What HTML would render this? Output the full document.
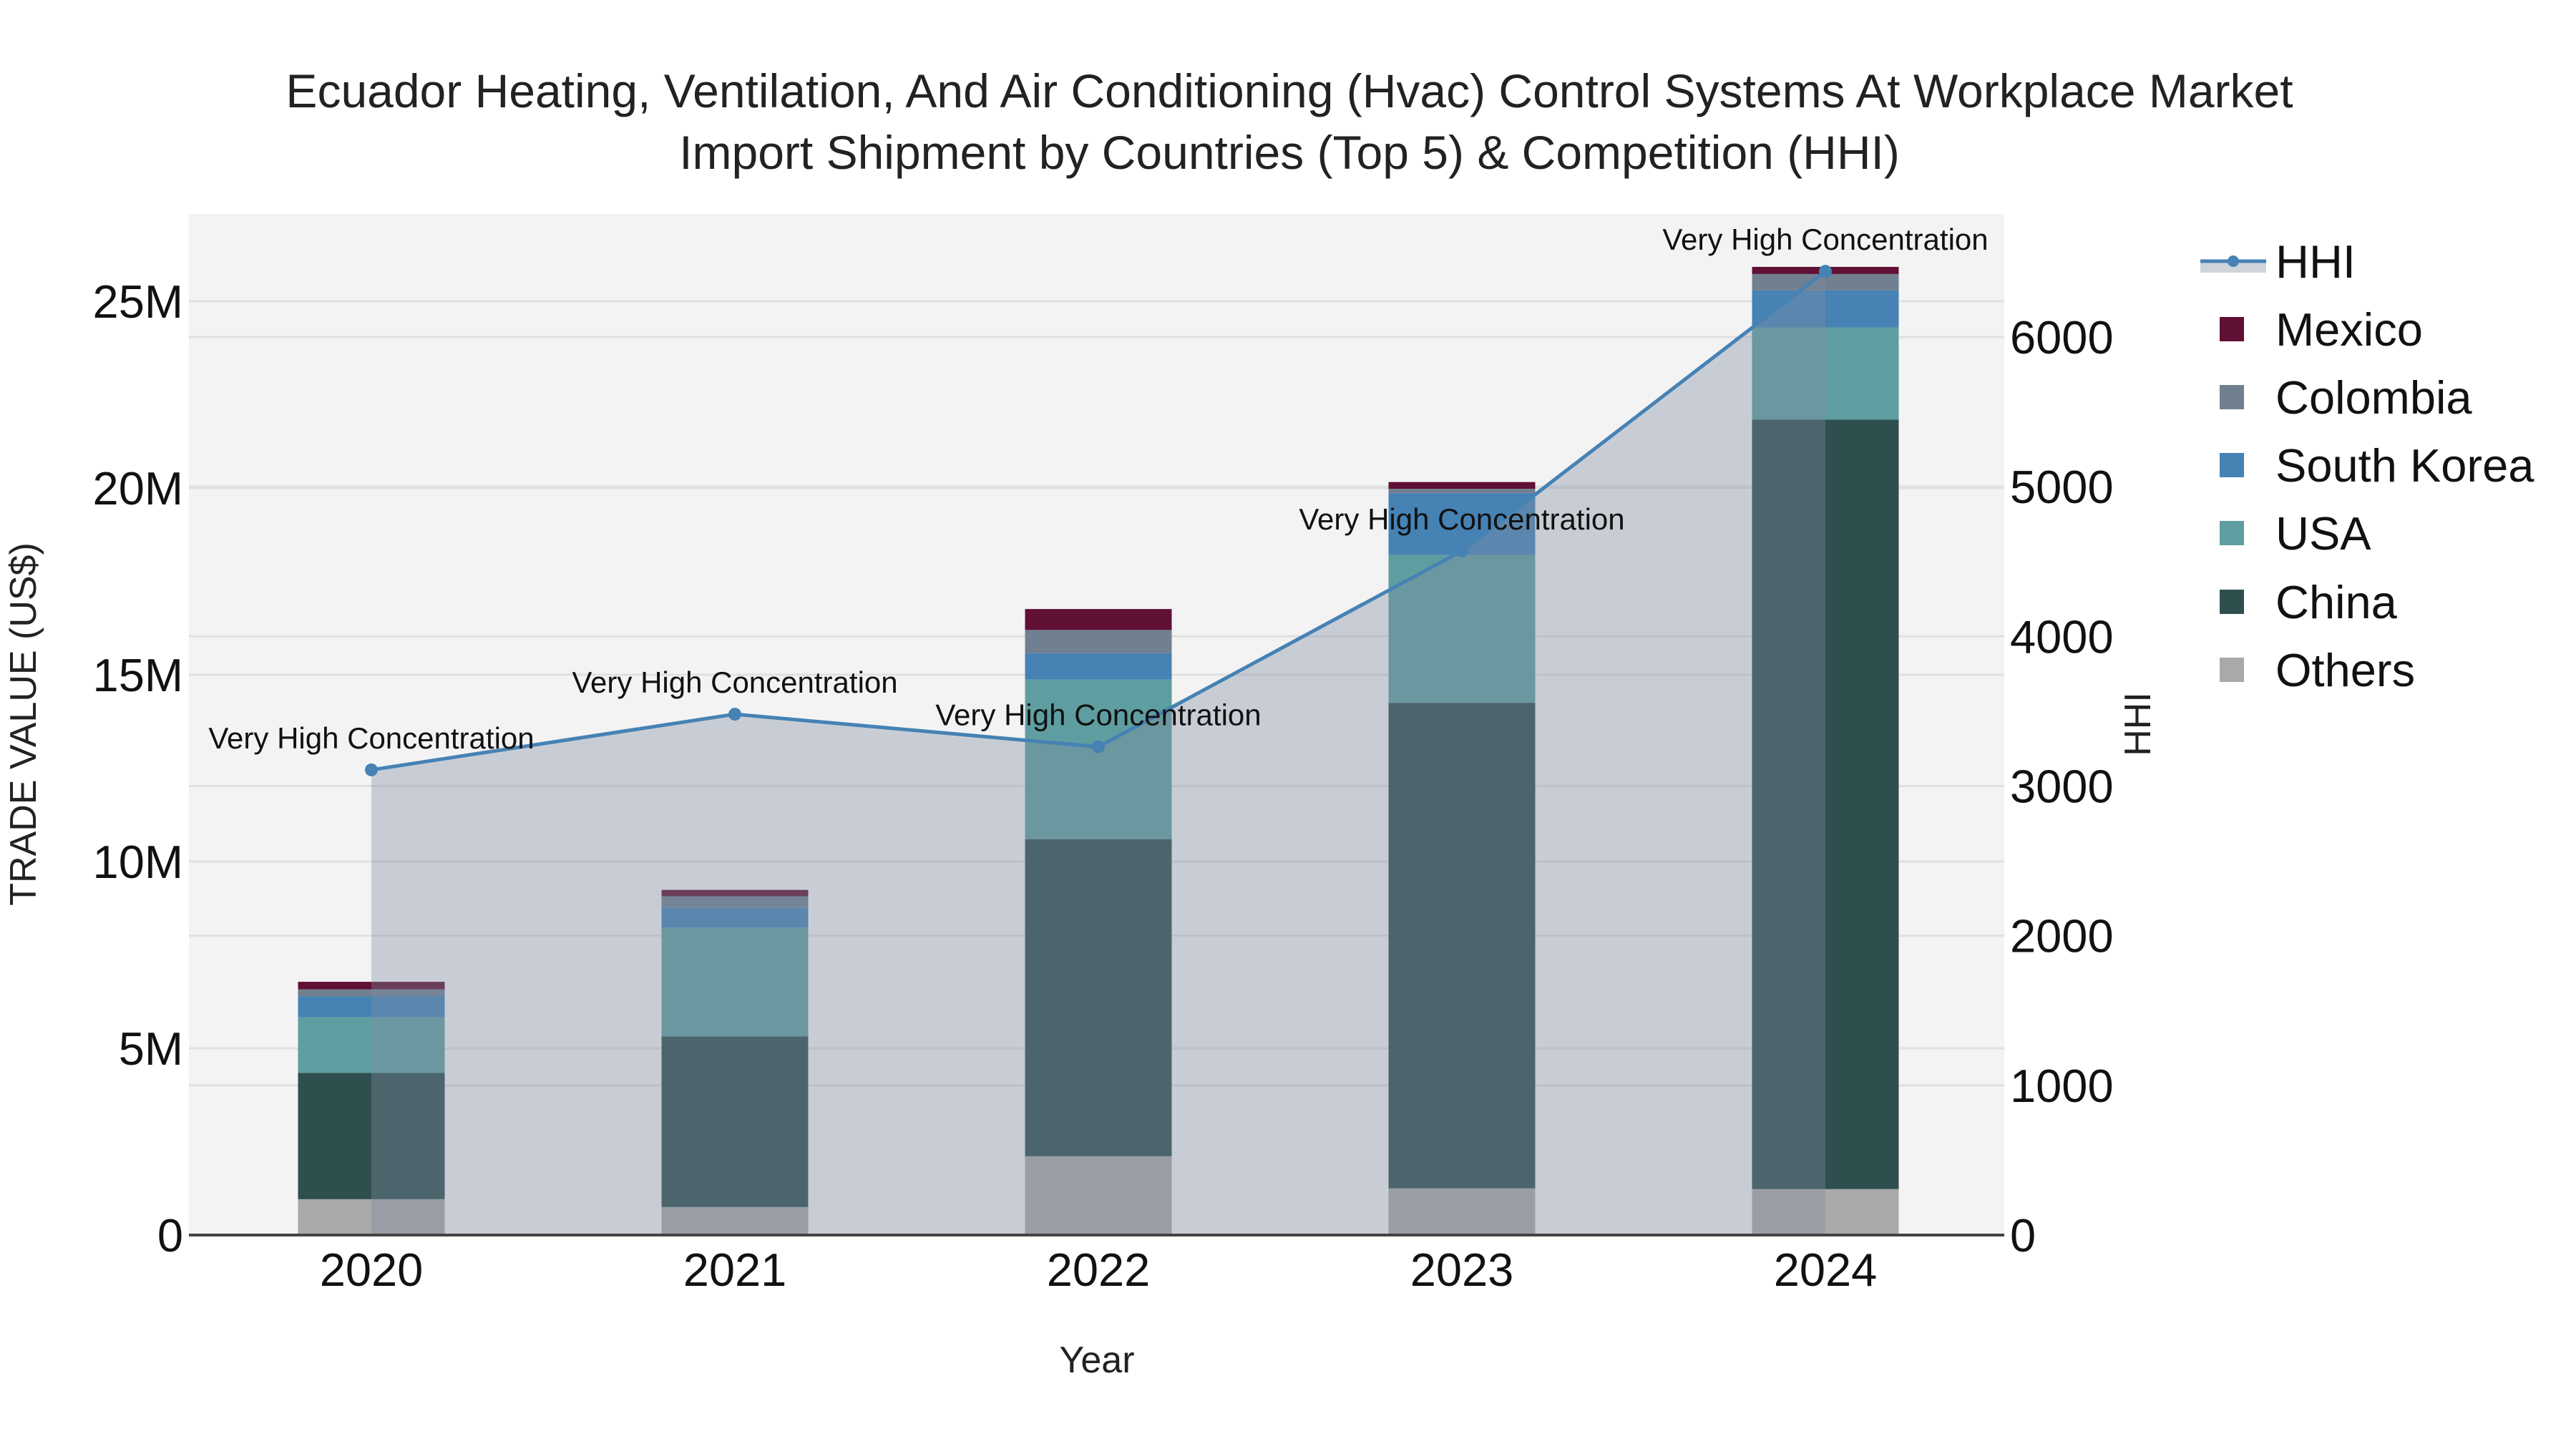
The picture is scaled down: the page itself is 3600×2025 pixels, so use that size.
<!DOCTYPE html>
<html><head><meta charset="utf-8"><style>
html,body{margin:0;padding:0;background:#fff;}
svg{display:block;font-family:"Liberation Sans",Arial,sans-serif;}
</style></head><body>
<svg id="chart" width="3600" height="2025" viewBox="0 0 3600 2025" xmlns="http://www.w3.org/2000/svg">
<rect x="0" y="0" width="3600" height="2025" fill="#ffffff"/>
<text x="1802" y="150" font-size="66" text-anchor="middle" fill="#222">Ecuador Heating, Ventilation, And Air Conditioning (Hvac) Control Systems At Workplace Market</text>
<text x="1802" y="236" font-size="66" text-anchor="middle" fill="#222">Import Shipment by Countries (Top 5) &amp; Competition (HHI)</text>
<rect x="264" y="299" width="2537" height="1427" fill="#f3f3f3"/>
<g id="grid"></g>
<g id="bars"></g>
<g id="hhi"></g>
<g id="axes"></g>
<g id="legend"></g>
</svg>
<script>
const years = ["2020","2021","2022","2023","2024"];
const others = [0.96, 0.75, 2.11, 1.25, 1.23];
const china = [3.38, 4.57, 8.49, 13.0, 20.6];
const usa = [1.49, 2.91, 4.27, 3.96, 2.47];
const southKorea = [0.56, 0.53, 0.71, 1.65, 0.99];
const colombia = [0.19, 0.31, 0.62, 0.12, 0.44];
const mexico = [0.2, 0.17, 0.56, 0.18, 0.19];
const hhi = [3108, 3480, 3262, 4571, 6439];
const leftTicks = [0, 5, 10, 15, 20, 25];
const leftTickLabels = ["0","5M","10M","15M","20M","25M"];
const rightTicks = [0, 1000, 2000, 3000, 4000, 5000, 6000];

const NS = "http://www.w3.org/2000/svg";
const PL = 264, PR = 2801, PT = 299, PB = 1726;
const x0 = 519, dx = 508, bw = 205;
function xS(i){ return x0 + i*dx; }
function yL(v){ return PB - v * (1305/25); }
function yR(v){ return PB - v * (1255/6000); }
function mk(tag, attrs, parent){ const e=document.createElementNS(NS,tag); for(const k in attrs) e.setAttribute(k,attrs[k]); parent.appendChild(e); return e; }

const grid=document.getElementById('grid');
rightTicks.forEach((t,i)=>{ if(t===0) return;
  const l=mk('line',{x1:PL,x2:PR,y1:yR(t),y2:yR(t),stroke:'#e0e0e0','stroke-width':3},grid);
  
  
});
leftTicks.forEach((t,i)=>{ if(t===0) return;
  const l=mk('line',{x1:PL,x2:PR,y1:yL(t),y2:yL(t),stroke:'#e0e0e0','stroke-width':3},grid);
  
  
});

const series=[
 {name:'Others',vals:others,color:'#a9a9a9'},
 {name:'China',vals:china,color:'#2f4f4f'},
 {name:'USA',vals:usa,color:'#5f9ea0'},
 {name:'South Korea',vals:southKorea,color:'#4682b4'},
 {name:'Colombia',vals:colombia,color:'#708090'},
 {name:'Mexico',vals:mexico,color:'#5f1034'}
];
const bars=document.getElementById('bars');
years.forEach((y,i)=>{
  let base=0;
  series.forEach(s=>{
    const v=s.vals[i];
    const r=mk('rect',{x:xS(i)-bw/2,y:yL(base+v),width:bw,height:yL(base)-yL(base+v),fill:s.color},bars);
    
    
    base+=v;
  });
});

const hg=document.getElementById('hhi');
let pts=hhi.map((v,i)=>xS(i)+','+yR(v));
const area=mk('polygon',{points:xS(0)+','+PB+' '+pts.join(' ')+' '+xS(hhi.length-1)+','+PB,fill:'rgba(128,141,162,0.37)'},hg);


const line=mk('polyline',{points:pts.join(' '),fill:'none',stroke:'#4682b4','stroke-width':5},hg);


hhi.forEach((v,i)=>{
  const c=mk('circle',{cx:xS(i),cy:yR(v),r:9,fill:'#4682b4'},hg);
  
  
  const t=mk('text',{x:xS(i),y:yR(v)-30,'font-size':42,'text-anchor':'middle',fill:'#111'},hg);
  t.textContent='Very High Concentration';
  
  
});

const ax=document.getElementById('axes');
const base=mk('line',{x1:PL,x2:PR,y1:PB,y2:PB,stroke:'#444','stroke-width':4},ax);


leftTicks.forEach((t,i)=>{
  const e=mk('text',{x:PL-8,y:yL(t)+23,'font-size':65,'text-anchor':'end',fill:'#111'},ax);
  e.textContent=leftTickLabels[i];
  
  
});
rightTicks.forEach(t=>{
  const e=mk('text',{x:PR+8,y:yR(t)+23,'font-size':65,'text-anchor':'start',fill:'#111'},ax);
  e.textContent=String(t);
  
  
});
years.forEach((y,i)=>{
  const e=mk('text',{x:xS(i),y:1797,'font-size':65,'text-anchor':'middle',fill:'#111'},ax);
  e.textContent=y;
  
  
});
let e=mk('text',{x:1533,y:1918,'font-size':52,'text-anchor':'middle',fill:'#222'},ax);
e.textContent='Year';


e=mk('text',{x:0,y:0,'font-size':52,'text-anchor':'middle',fill:'#222',transform:'translate(50,1012) rotate(-90)'},ax);
e.textContent='TRADE VALUE (US$)';


e=mk('text',{x:0,y:0,'font-size':52,'text-anchor':'middle',fill:'#222',transform:'translate(3005,1012) rotate(-90)'},ax);
e.textContent='HHI';



const lg=document.getElementById('legend');
const ly=[365,460,555,650,745,841,936];
const li=mk('rect',{x:3075,y:ly[0]+2,width:92,height:14,fill:'#cfd3da'},lg);


const ll=mk('line',{x1:3075,x2:3167,y1:ly[0],y2:ly[0],stroke:'#4682b4','stroke-width':5},lg);


const lc=mk('circle',{cx:3121,cy:ly[0],r:8,fill:'#4682b4'},lg);


const lt=mk('text',{x:3180,y:ly[0]+23,'font-size':65,fill:'#111'},lg);
lt.textContent='HHI';


const legOrder=[5,4,3,2,1,0];
legOrder.forEach((si,k)=>{
  const s=series[si], yy=ly[k+1];
  const r=mk('rect',{x:3102,y:yy-17,width:34,height:34,fill:s.color},lg);
  
  
  const t=mk('text',{x:3180,y:yy+23,'font-size':65,fill:'#111'},lg);
  t.textContent=s.name;
  
  
});
</script>
</body></html>
